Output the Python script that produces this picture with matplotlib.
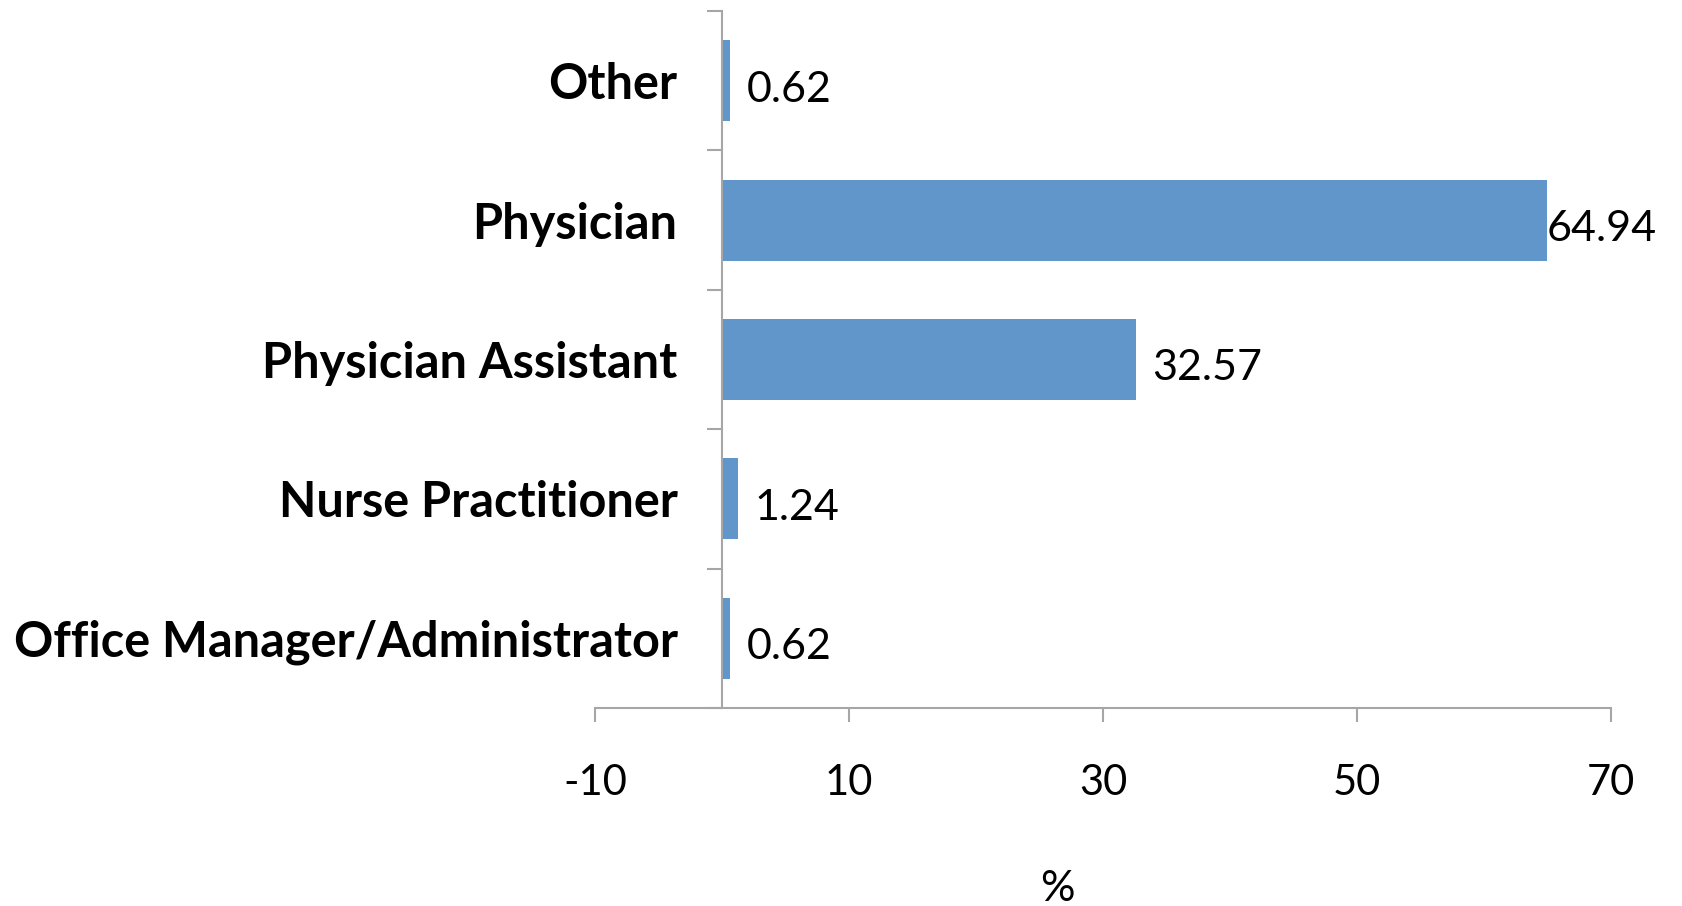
import matplotlib
matplotlib.use("Agg")
import matplotlib.pyplot as plt
from matplotlib.ticker import FixedLocator
from matplotlib.transforms import ScaledTranslation

categories = ["Office Manager/Administrator", "Nurse Practitioner", "Physician Assistant", "Physician", "Other"]
values = [0.62, 1.24, 32.57, 64.94, 0.62]
value_labels = ["0.62", "1.24", "32.57", "64.94", "0.62"]
xticks = [-10, 10, 30, 50, 70]
xlabel = "%"

W, H = 1682, 906
fig = plt.figure(figsize=(W / 100, H / 100), dpi=100)
ax = fig.add_axes([595 / W, 1 - 708 / H, (1611 - 595) / W, (708 - 11) / H])

bar_color = "#6096C9"
axis_color = "#A6A6A6"
num_font = ["Lato", "DejaVu Sans"]
lab_font = ["Lato", "DejaVu Sans"]

for s in ["top", "right"]:
    ax.spines[s].set_visible(False)
ax.spines["left"].set_position(("data", 0))
ax.spines["left"].set_color(axis_color)
ax.spines["left"].set_linewidth(1.5)
ax.spines["bottom"].set_color(axis_color)
ax.spines["bottom"].set_linewidth(1.5)

ypos = list(range(len(categories)))
bars = ax.barh(ypos, values, height=0.58, color=bar_color, zorder=2)

ax.set_xlim(-10, 70)
ax.set_ylim(-0.5, len(categories) - 0.5)
ax.set_xticks(xticks)
ax.set_xticklabels([str(t) for t in xticks], fontsize=30, fontfamily=num_font)

ax.set_yticks(ypos)
ax.set_yticklabels(categories, fontsize=35, fontweight="bold", fontfamily=lab_font)
shift = ScaledTranslation(0, -4 / 72, fig.dpi_scale_trans)
for t in ax.get_yticklabels():
    t.set_transform(t.get_transform() + shift)
ax.yaxis.set_minor_locator(FixedLocator([i - 0.5 for i in range(len(categories) + 1)]))
ax.tick_params(axis="y", which="major", length=0, pad=32)
ax.tick_params(axis="y", which="minor", length=10.5, width=1.5, color=axis_color, direction="out")
ax.tick_params(axis="x", length=10, width=1.5, color=axis_color, direction="out", pad=30)

pads = [12, 12, 12, 0, 12]
for b, lab, p in zip(bars, value_labels, pads):
    ax.annotate(lab, (b.get_width(), b.get_y() + b.get_height() / 2),
                xytext=(p, -15), textcoords="offset points", ha="left", va="baseline",
                fontsize=31, family=num_font)

ax.set_xlabel(xlabel, fontsize=31, family=num_font)
ax.xaxis.set_label_coords((1057 - 595) / (1611 - 595), -0.232)

fig.savefig("out.png", dpi=100)
